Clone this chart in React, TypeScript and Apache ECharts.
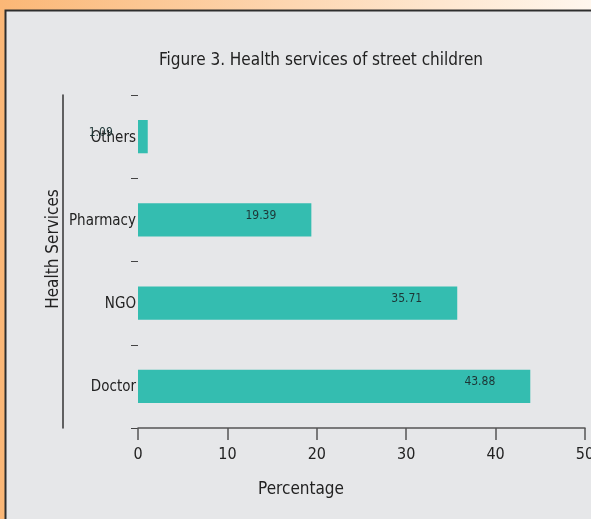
import React, { useEffect, useRef } from "react";
import * as echarts from "echarts";

const categories = ["Doctor", "NGO", "Pharmacy", "Others"];
const values = [43.88, 35.71, 19.39, 1.09];
const xTicks = [0, 10, 20, 30, 40, 50];

const FONT = "'Liberation Sans Narrow', 'DejaVu Sans Condensed', 'Roboto', sans-serif";

export default function App() {
  const ref = useRef<HTMLDivElement>(null);
  useEffect(() => {
    if (!ref.current) return;
    const chart = echarts.init(ref.current, null, { renderer: "svg" });
    chart.setOption({
      animation: false,
      backgroundColor: "transparent",
      textStyle: { fontFamily: FONT },
      title: {
        text: "Figure 3. Health services of street children",
        left: 316,
        top: 45,
        textAlign: "center",
        textStyle: { fontFamily: FONT, fontSize: 17, fontWeight: "normal", color: "#222" },
      },
      graphic: [
        {
          type: "rect",
          z: -10,
          shape: { x: 0, y: 0, width: 591, height: 519 },
          style: {
            fill: new echarts.graphic.LinearGradient(0, 0, 1, 0, [
              { offset: 0, color: "#fbb776" },
              { offset: 1, color: "#fff7ee" },
            ]),
          },
        },
        {
          type: "rect",
          z: -9,
          shape: { x: 5.5, y: 10.5, width: 586, height: 509 },
          style: { fill: "#e6e7e9" },
        },
        {
          type: "polyline",
          z: -8,
          shape: { points: [[5.5, 519], [5.5, 10.5], [591, 10.5]] },
          style: { fill: null, stroke: "#2e2e2e", lineWidth: 2 },
        },
        {
          type: "text",
          x: 52,
          y: 249,
          rotation: Math.PI / 2,
          style: {
            text: "Health Services",
            fontFamily: FONT,
            fontSize: 17,
            fill: "#222",
            align: "center",
            verticalAlign: "middle",
          },
        },
        {
          type: "text",
          x: 301,
          y: 488,
          style: {
            text: "Percentage",
            fontFamily: FONT,
            fontSize: 17,
            fill: "#222",
            align: "center",
            verticalAlign: "middle",
          },
        },
      ],
      grid: { left: 138, right: 6, top: 95, bottom: 91, outerBoundsMode: "none" },
      xAxis: {
        type: "value",
        min: xTicks[0],
        max: xTicks[xTicks.length - 1],
        interval: 10,
        splitLine: { show: false },
        axisLine: { show: true, lineStyle: { color: "#555", width: 1.5 } },
        axisTick: { show: true, length: 12, lineStyle: { color: "#555", width: 1.5 } },
        axisLabel: { margin: 17, fontFamily: FONT, fontSize: 16, color: "#222" },
      },
      yAxis: [
        {
          type: "category",
          data: categories,
          axisLine: { show: false },
          axisTick: { show: true, length: 7, lineStyle: { color: "#444", width: 1 } },
          axisLabel: { margin: 2, fontFamily: FONT, fontSize: 15, color: "#222" },
        },
        {
          type: "category",
          data: categories,
          position: "left",
          offset: 75,
          axisLine: { show: true, lineStyle: { color: "#333", width: 1.5 } },
          axisTick: { show: false },
          axisLabel: { show: false },
        },
      ],
      series: [
        {
          type: "bar",
          data: values,
          barWidth: "40%",
          itemStyle: { color: "#34bdb0" },
          label: {
            show: true,
            position: "insideRight",
            offset: [-30, -5],
            fontFamily: FONT,
            fontSize: 12,
            color: "#1d3535",
            formatter: (p: any) => p.value.toFixed(2),
          },
        },
      ],
    });
    return () => chart.dispose();
  }, []);
  return (
    <div
      ref={ref}
      style={{ position: "fixed", left: 0, top: 0, width: 591, height: 519 }}
    />
  );
}
